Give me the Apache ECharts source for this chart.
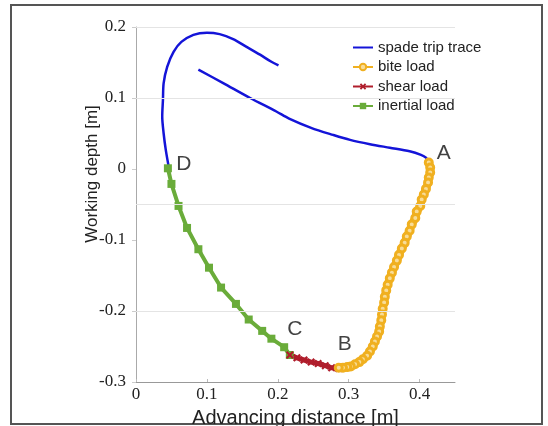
<!DOCTYPE html>
<html>
<head>
<meta charset="utf-8">
<script src="https://cdn.jsdelivr.net/npm/echarts@6/dist/echarts.min.js"></script>
<style>
  html, body { margin: 0; padding: 0; background: #fff; }
  #chart { width: 548px; height: 426px; }
</style>
</head>
<body>
<div id="chart"></div>
<script>
// spade trip trace, two separate pieces
const tracePartA = [
  [0.201, 0.146], [0.191, 0.151], [0.175, 0.161], [0.156, 0.172], [0.137, 0.183],
  [0.118, 0.190], [0.100, 0.192], [0.081, 0.189], [0.064, 0.179], [0.053, 0.165],
  [0.044, 0.144], [0.039, 0.121], [0.038, 0.097], [0.037, 0.074], [0.039, 0.050],
  [0.042, 0.027], [0.046, 0.004]
]
const tracePartB = [
  [0.414, 0.009], [0.409, 0.016], [0.402, 0.020], [0.386, 0.025], [0.358, 0.030],
  [0.330, 0.035], [0.302, 0.041], [0.278, 0.048], [0.247, 0.058], [0.216, 0.071],
  [0.198, 0.081], [0.161, 0.100], [0.123, 0.121], [0.088, 0.140]
]
const biteLoad = [
  [0.413, 0.009], [0.415, 0.002], [0.415, -0.005], [0.413, -0.012], [0.412, -0.019],
  [0.409, -0.028], [0.406, -0.036], [0.403, -0.043], [0.401, -0.052], [0.396, -0.060],
  [0.394, -0.069], [0.389, -0.078], [0.386, -0.087], [0.382, -0.095], [0.379, -0.104],
  [0.375, -0.112], [0.371, -0.121], [0.368, -0.129], [0.364, -0.138], [0.361, -0.146],
  [0.358, -0.154], [0.355, -0.163], [0.353, -0.171], [0.351, -0.180], [0.350, -0.188],
  [0.348, -0.197], [0.347, -0.205], [0.346, -0.213], [0.344, -0.222], [0.343, -0.229],
  [0.340, -0.236], [0.337, -0.243], [0.334, -0.250], [0.330, -0.257], [0.326, -0.263],
  [0.320, -0.268], [0.315, -0.272], [0.309, -0.275], [0.303, -0.278], [0.298, -0.279],
  [0.292, -0.280], [0.286, -0.280]
]
const shearLoad = [
  [0.217, -0.262], [0.227, -0.266], [0.237, -0.269], [0.247, -0.272],
  [0.257, -0.274], [0.267, -0.277], [0.276, -0.280], [0.286, -0.281]
]
const inertialLoad = [
  [0.045, 0.001], [0.050, -0.021], [0.060, -0.052], [0.072, -0.083], [0.088, -0.113],
  [0.103, -0.139], [0.120, -0.167], [0.141, -0.190], [0.159, -0.212], [0.178, -0.228],
  [0.191, -0.239], [0.209, -0.251], [0.217, -0.262]
]
const seriesNames = ['spade trip trace', 'bite load', 'shear load', 'inertial load']
const pointNames = ['A', 'B', 'C', 'D']
const gridLevels = [0.2, 0.1, -0.05, -0.2]

const keyPoints = [biteLoad[0], biteLoad[biteLoad.length - 1], shearLoad[0], inertialLoad[0]]
const labelOffsets = [[15, -9], [6, -24], [5, -26], [16, -4]]

const crossPath = 'path://M2,0L5,3L8,0L10,2L7,5L10,8L8,10L5,7L2,10L0,8L3,5L0,2Z'
const blue = '#1414d8'
const orange = '#f0b020'
const red = '#b01e2c'
const green = '#6aac3a'

const chart = echarts.init(document.getElementById('chart'))
chart.setOption({
  animation: false,
  grid: { left: 136, right: 93, top: 27, bottom: 44, outerBoundsMode: 'none', containLabel: false },
  legend: {
    data: [
      { name: seriesNames[0], itemStyle: { color: 'rgba(0,0,0,0)', borderColor: 'rgba(0,0,0,0)' } },
      seriesNames[1], seriesNames[2], seriesNames[3]
    ],
    orient: 'vertical',
    left: 352,
    top: 40,
    padding: 0,
    itemWidth: 20,
    itemHeight: 8,
    itemGap: 4.5,
    textStyle: { fontFamily: 'Liberation Sans', fontSize: 15, color: '#222' }
  },
  xAxis: {
    type: 'value',
    min: 0,
    max: 0.45,
    interval: 0.1,
    name: 'Advancing distance [m]',
    nameLocation: 'middle',
    nameGap: 26,
    nameTextStyle: { fontFamily: 'Liberation Sans', fontSize: 20, color: '#222' },
    axisLine: { onZero: false, lineStyle: { color: '#999' } },
    axisTick: { inside: true, length: 3, lineStyle: { color: '#bbb' } },
    axisLabel: {
      showMaxLabel: false,
      margin: 4,
      fontFamily: 'Liberation Serif', fontSize: 17, color: '#222'
    },
    splitLine: { show: false }
  },
  yAxis: {
    type: 'value',
    min: -0.3,
    max: 0.2,
    interval: 0.1,
    axisLine: { show: true, onZero: false, lineStyle: { color: '#aaa' } },
    axisTick: { show: true, length: 4, lineStyle: { color: '#ccc' } },
    axisLabel: { margin: 10, fontFamily: 'Liberation Serif', fontSize: 17, color: '#222' },
    splitLine: { show: false }
  },
  graphic: [
    {
      type: 'rect',
      shape: { x: 11, y: 5, width: 531, height: 419 },
      style: { fill: 'none', stroke: '#555', lineWidth: 2 },
      silent: true
    },
    {
      type: 'text',
      x: 92,
      y: 174,
      rotation: Math.PI / 2,
      style: {
        text: 'Working depth [m]',
        fontFamily: 'Liberation Sans',
        fontSize: 17,
        fill: '#222',
        textAlign: 'center',
        textVerticalAlign: 'middle'
      }
    }
  ],
  series: [
    {
      type: 'line',
      data: [],
      silent: true,
      markLine: {
        silent: true,
        symbol: 'none',
        label: { show: false },
        lineStyle: { color: '#e4e4e4', type: 'solid', width: 1 },
        data: gridLevels.map(v => ({ yAxis: v }))
      }
    },
    {
      name: seriesNames[0],
      type: 'line',
      data: tracePartA,
      smooth: 0.3,
      symbol: 'none',
      lineStyle: { color: blue, width: 2.5 },
      itemStyle: { color: blue }
    },
    {
      name: seriesNames[0],
      type: 'line',
      data: tracePartB,
      smooth: 0.3,
      symbol: 'none',
      lineStyle: { color: blue, width: 2.5 },
      itemStyle: { color: blue }
    },
    {
      name: seriesNames[3],
      type: 'line',
      data: inertialLoad,
      symbol: 'rect',
      symbolSize: 8,
      lineStyle: { color: green, width: 4 },
      itemStyle: { color: green }
    },
    {
      name: seriesNames[2],
      type: 'line',
      data: shearLoad,
      symbol: crossPath,
      symbolSize: 8,
      lineStyle: { color: red, width: 5 },
      itemStyle: { color: red }
    },
    {
      name: seriesNames[1],
      type: 'line',
      data: biteLoad,
      symbol: 'circle',
      symbolSize: 7,
      smooth: 0.2,
      lineStyle: { color: orange, width: 8 },
      itemStyle: { color: '#f8dc98', borderColor: orange, borderWidth: 3 }
    },
    {
      type: 'scatter',
      silent: true,
      symbolSize: 0,
      data: keyPoints.map((p, i) => ({
        value: p,
        label: {
          show: true,
          formatter: pointNames[i],
          position: 'inside',
          offset: labelOffsets[i],
          fontFamily: 'Liberation Sans',
          fontSize: 21,
          color: '#111'
        }
      }))
    }
  ]
})
</script>
</body>
</html>
